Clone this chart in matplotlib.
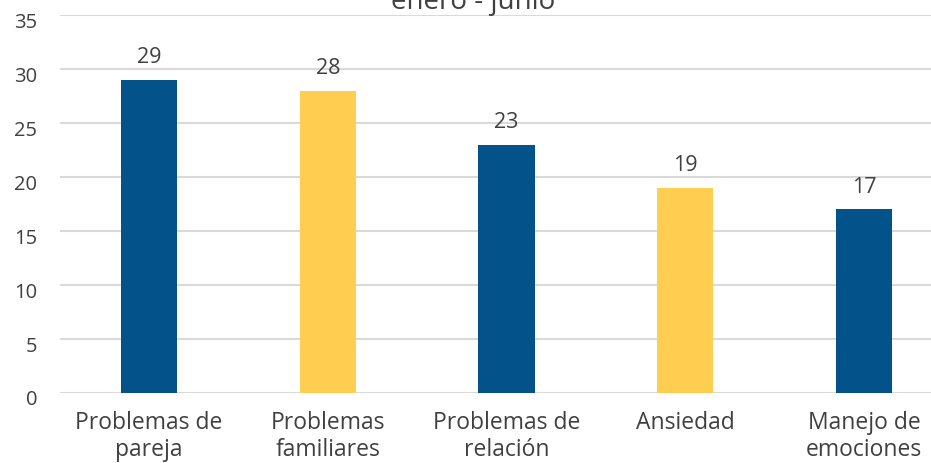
import matplotlib
matplotlib.use("Agg")
import matplotlib.pyplot as plt
from matplotlib.transforms import ScaledTranslation

categories = ["Problemas de\npareja", "Problemas\nfamiliares", "Problemas de\nrelación", "Ansiedad", "Manejo de\nemociones"]
values = [29, 28, 23, 19, 17]
yticks = [0, 5, 10, 15, 20, 25, 30, 35]
title = "enero - junio"

blue = "#03538A"
yellow = "#FFCD4F"
colors = [blue, yellow, blue, yellow, blue]
txt = "#404040"

plt.rcParams['font.family'] = ['Open Sans', 'DejaVu Sans']
W, H = 931, 464
fig = plt.figure(figsize=(W/100, H/100), dpi=100)
left, right, top, bottom = 60, 931, 16, 394
ax = fig.add_axes([left/W, (H-bottom)/H, (right-left)/W, (bottom-top)/H])

x = list(range(len(categories)))
ax.bar(x, values, width=0.315, color=colors, zorder=3)
ax.set_xlim(-0.498, 4.375)
ax.set_ylim(0, 35)
ax.set_yticks(yticks)
ax.set_yticklabels([str(t) for t in yticks], fontsize=14.5, color=txt)
ax.set_xticks(x)
ax.set_xticklabels(categories, fontsize=16.5, color=txt, linespacing=1.12)
ax.tick_params(axis='both', length=0)
ax.tick_params(axis='x', pad=12.5)
ax.tick_params(axis='y', pad=16.5)
shift = ScaledTranslation(0, -4/100, fig.dpi_scale_trans)
for lab in ax.get_yticklabels():
    lab.set_transform(lab.get_transform() + shift)
ax.grid(axis='y', color="#D9D9D9", linewidth=1.5, zorder=0)
for s in ax.spines.values():
    s.set_visible(False)
for xi, v in zip(x, values):
    ax.annotate(str(v), (xi, v), xytext=(0, 9), textcoords='offset points',
                ha='center', va='bottom', fontsize=15.5, color=txt)
fig.text(473/W, 1 - 9/H, title, ha='center', va='baseline', fontsize=20, color=txt)
fig.savefig("out.png", dpi=100)
